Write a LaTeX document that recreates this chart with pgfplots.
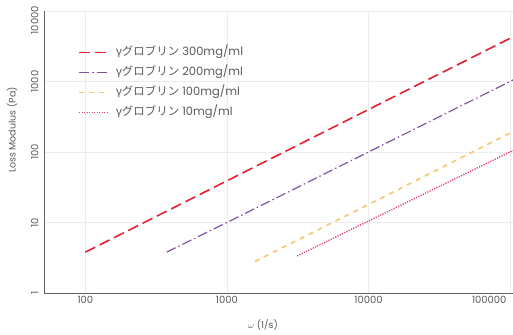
\documentclass[border=0pt]{standalone}
\usepackage{pgfplots}
\pgfplotsset{compat=1.18}
\usepackage{fontspec}
\setmainfont{Poppins}
\newfontfamily\cjk{Noto Sans CJK JP}
\definecolor{cred}{RGB}{228,32,52}
\definecolor{cpurple}{RGB}{128,88,158}
\definecolor{cyellow}{RGB}{247,198,110}
\definecolor{cpink}{RGB}{228,58,110}
\definecolor{gridc}{RGB}{236,236,236}
\definecolor{axc}{RGB}{100,100,100}
\definecolor{txt}{RGB}{90,90,90}
\begin{document}
\begin{tikzpicture}
\begin{axis}[
  scale only axis, width=469bp, height=282bp,
  xmode=log, ymode=log,
  xmin=51, xmax=105000, ymin=1, ymax=10000,
  axis lines*=left,
  axis line style={axc, line width=0.9bp},
  grid=major, major grid style={gridc, line width=0.6bp},
  minor tick num=0,
  xtick={100,1000,10000,100000}, ytick={1,10,100,1000,10000},
  xticklabels={100,1000,10000,\makebox[76bp][l]{100000}},
  yticklabels={1,10,100,1000,\makebox[10bp][r]{10000}},
  log ticks with fixed point,
  /pgf/number format/1000 sep={},
  /pgf/number format/assume math mode=true,
  major tick length=0pt, minor tick length=0pt,
  tick label style={font=\fontsize{10}{12}\selectfont, text=txt},
  yticklabel style={rotate=90, anchor=south},
  yticklabel shift=2bp,
  xticklabel shift=0bp,
  xlabel={$\omega$ (1/s)},
  ylabel={Loss Modulus (Pa)},
  label style={font=\fontsize{9.5}{11}\selectfont, text=txt},
  xlabel style={at={(axis description cs:0.467,-0.113)}, anchor=center},
  ylabel style={at={(axis description cs:-0.068,0.578)}, anchor=center},
  legend style={at={(axis description cs:0.0725,0.875)}, anchor=north west,
    draw=none, fill=none, inner sep=0pt,
    font=\fontsize{11.5}{13}\selectfont, text=txt,
    nodes={inner sep=1bp, text height=8.5bp, text depth=2bp},
    row sep=7.5bp, column sep=5bp},
  legend cell align=left,
  legend image code/.code={\draw[#1] (0bp,0bp) -- (30bp,0bp);},
]
\addplot[cred, line width=1.6bp, dash pattern=on 11bp off 5bp]
  coordinates {(100,3.8) (1000,39) (10000,400) (105000,4300)};
\addlegendentry{{\cjk γグロブリン} 300mg/ml}
\addplot[cpurple, line width=1.2bp, dash pattern=on 10bp off 3bp on 1.5bp off 3bp]
  coordinates {(375,3.8) (1000,10) (10000,100) (105000,1050)};
\addlegendentry{{\cjk γグロブリン} 200mg/ml}
\addplot[cyellow, line width=1.6bp, dash pattern=on 5bp off 5bp]
  coordinates {(1580,2.8) (10000,18) (105000,195)};
\addlegendentry{{\cjk γグロブリン} 100mg/ml}
\addplot[cpink, line width=1.3bp, dash pattern=on 1.2bp off 1.3bp]
  coordinates {(3130,3.35) (10000,10.5) (105000,105)};
\addlegendentry{{\cjk γグロブリン} 10mg/ml}
\end{axis}
\pgfresetboundingbox
\path (-44bp,-42bp) rectangle (469bp,293bp);
\end{tikzpicture}
\end{document}
